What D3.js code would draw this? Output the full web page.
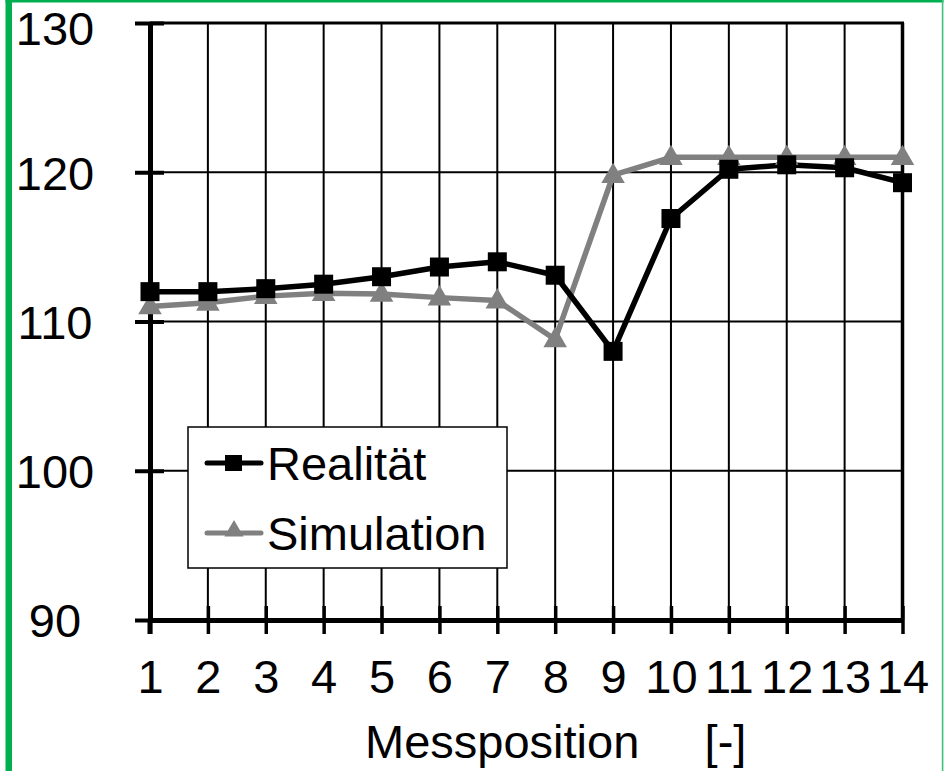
<!DOCTYPE html>
<html>
<head>
<meta charset="utf-8">
<script src="https://cdn.jsdelivr.net/npm/d3@7"></script>
<style>
  body { margin: 0; background: #fff; }
  text { font-family: Arial, "Liberation Sans", sans-serif; fill: #000; }
</style>
</head>
<body>
<script>
// Messpositionen und Messwerte
positions = [1, 2, 3, 4, 5, 6, 7, 8, 9, 10, 11, 12, 13, 14];
realitaet = [112.0, 112.0, 112.2, 112.5, 113.0, 113.65, 114.0, 113.1, 108.0, 116.9, 120.2, 120.5, 120.3, 119.3];
simulation = [111.0, 111.25, 111.7, 111.9, 111.85, 111.6, 111.4, 108.8, 119.8, 121.0, 121.0, 121.0, 121.0, 121.0];
yTicks = [90, 100, 110, 120, 130];
seriesNames = ['Realität', 'Simulation'];

width = 944;
height = 771;
fontSize = 47;

svg = d3.select('body').append('svg')
   .attr('width', width)
   .attr('height', height);

// grüner Rahmen
svg.append('rect').attr('x', 5.5).attr('y', 0).attr('width', 6.5).attr('height', height).attr('fill', '#00b050');
svg.append('rect').attr('x', 5.5).attr('y', 0).attr('width', 938).attr('height', 2.5).attr('fill', '#00b050');
svg.append('rect').attr('x', 941.8).attr('y', 0).attr('width', 1.6).attr('height', height).attr('fill', '#3cc27a');

x = d3.scaleLinear().domain([1, 14]).range([150, 902.5]);
y = d3.scaleLinear().domain([90, 130]).range([620, 23]);

// Gitternetz
svg.append('g').selectAll('line')
   .data(positions.slice(1, -1))
   .enter().append('line')
   .attr('x1', d => x(d)).attr('x2', d => x(d))
   .attr('y1', y(130)).attr('y2', y(90))
   .attr('stroke', '#000').attr('stroke-width', 2);
svg.append('g').selectAll('line')
   .data(yTicks.slice(1, -1))
   .enter().append('line')
   .attr('x1', x(1)).attr('x2', x(14))
   .attr('y1', d => y(d)).attr('y2', d => y(d))
   .attr('stroke', '#000').attr('stroke-width', 2);

// Rahmen oben und rechts
svg.append('line').attr('x1', x(1)).attr('x2', x(14) + 1.5).attr('y1', y(130)).attr('y2', y(130))
   .attr('stroke', '#000').attr('stroke-width', 3);
svg.append('line').attr('x1', x(14)).attr('x2', x(14)).attr('y1', y(130)).attr('y2', y(90))
   .attr('stroke', '#000').attr('stroke-width', 3.5);

// x-Achse
xAxis = svg.append('g')
   .attr('transform', 'translate(0,' + y(90) + ')')
   .call(d3.axisBottom(x).tickValues(positions).tickFormat(d3.format('d')).tickSizeOuter(0));
xAxis.select('.domain').attr('stroke', '#000').attr('stroke-width', 5);
xAxis.selectAll('.tick line').attr('y1', -14).attr('y2', 14).attr('stroke', '#000').attr('stroke-width', 3.5);
xAxis.selectAll('.tick text')
   .attr('y', 73).attr('dy', null)
   .style('font-size', fontSize + 'px');

// y-Achse
yAxis = svg.append('g')
   .attr('transform', 'translate(' + x(1) + ',0)')
   .call(d3.axisLeft(y).tickValues(yTicks).tickSizeOuter(0));
yAxis.select('.domain').attr('stroke', '#000').attr('stroke-width', 5);
yAxis.selectAll('.tick line').attr('x1', -15).attr('x2', 14).attr('stroke', '#000').attr('stroke-width', 4);
yAxis.selectAll('.tick text')
   .attr('x', 55 - x(1)).attr('text-anchor', 'middle')
   .attr('dy', '0.36em')
   .attr('y', d => Math.max(0, 28 - y(d)))
   .style('font-size', fontSize + 'px');
// Achse bis unter die x-Achse verlängern
svg.append('line').attr('x1', x(1)).attr('x2', x(1)).attr('y1', y(90)).attr('y2', y(90) + 14)
   .attr('stroke', '#000').attr('stroke-width', 5);

// Achsentitel
svg.append('text')
   .attr('x', 365).attr('y', 758)
   .style('font-size', fontSize + 'px')
   .style('white-space', 'pre')
   .text('Messposition     [-]');

// Linien
line = d3.line().x((d, i) => x(positions[i])).y(d => y(d));
svg.append('path').datum(simulation)
   .attr('d', line).attr('fill', 'none')
   .attr('stroke', '#808080').attr('stroke-width', 5.5).attr('stroke-linejoin', 'round');
svg.append('path').datum(realitaet)
   .attr('d', line).attr('fill', 'none')
   .attr('stroke', '#000').attr('stroke-width', 5.5).attr('stroke-linejoin', 'round');

tri = d3.symbol().type(d3.symbolTriangle).size(240);
svg.append('g').selectAll('path')
   .data(simulation)
   .enter().append('path')
   .attr('d', tri)
   .attr('transform', (d, i) => 'translate(' + x(positions[i]) + ',' + (y(d) + 1) + ')')
   .attr('fill', '#808080');

sq = 19;
svg.append('g').selectAll('rect')
   .data(realitaet)
   .enter().append('rect')
   .attr('x', (d, i) => x(positions[i]) - sq / 2)
   .attr('y', d => y(d) - sq / 2)
   .attr('width', sq).attr('height', sq)
   .attr('fill', '#000');

// Legende
legend = svg.append('g').attr('transform', 'translate(188,427)');
legend.append('rect').attr('width', 319).attr('height', 141)
   .attr('fill', '#fff').attr('stroke', '#000').attr('stroke-width', 1.5);
rows = legend.selectAll('g.row')
   .data(seriesNames)
   .enter().append('g').attr('class', 'row')
   .attr('transform', (d, i) => 'translate(0,' + (36 + i * 70) + ')');
rows.append('line').attr('x1', 19).attr('x2', 73)
   .attr('stroke', (d, i) => i ? '#808080' : '#000').attr('stroke-width', 5)
   .attr('stroke-linecap', 'round');
rows.filter((d, i) => i === 0).append('rect')
   .attr('x', 37).attr('y', -8).attr('width', 17).attr('height', 16).attr('fill', '#000');
rows.filter((d, i) => i === 1).append('path')
   .attr('d', d3.symbol().type(d3.symbolTriangle).size(160))
   .attr('transform', 'translate(46,-2)')
   .attr('fill', '#808080');
rows.append('text')
   .attr('x', 79).attr('y', 0).attr('dy', '0.36em')
   .style('font-size', fontSize + 'px')
   .text(d => d);
</script>
</body>
</html>
